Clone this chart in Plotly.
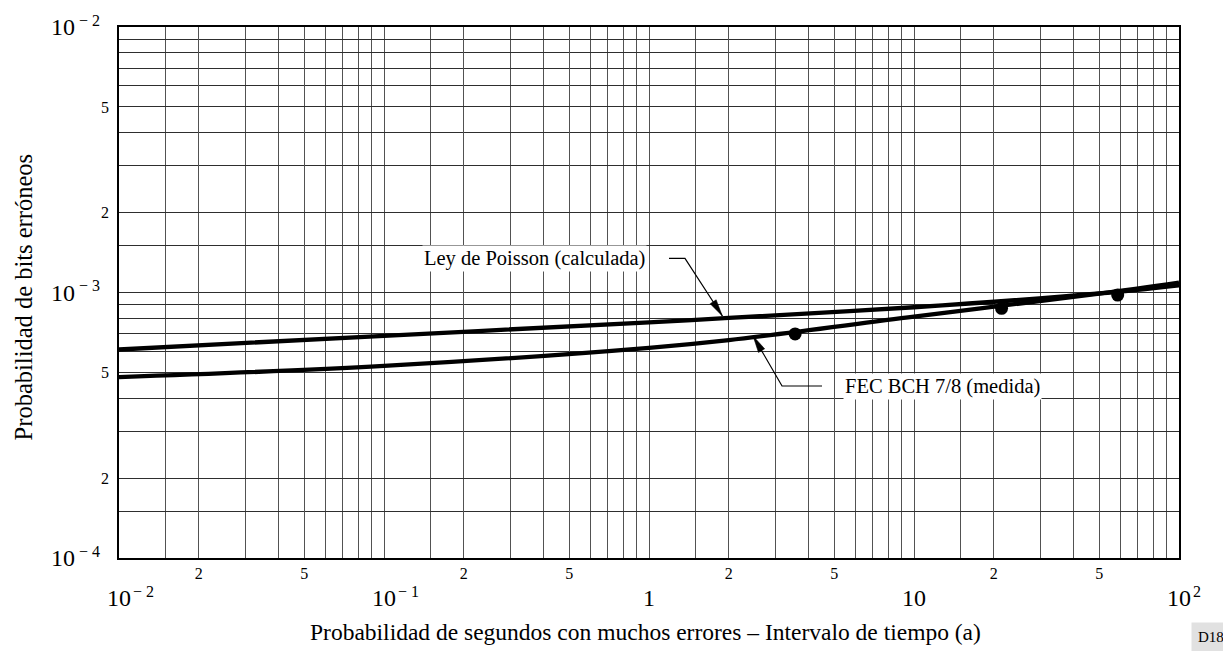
import math
import plotly.graph_objects as go

# ---------------- data ----------------
poisson_x = [0.01, 0.1, 1, 2, 10, 50, 100]
poisson_y = [6.1e-4, 6.87e-4, 7.72e-4, 8.02e-4, 8.8e-4, 9.92e-4, 1.065e-3]

fec_x = [0.01, 0.1, 1, 2, 10, 50, 100]
fec_y = [4.8e-4, 5.29e-4, 6.19e-4, 6.62e-4, 8.11e-4, 9.91e-4, 1.09e-3]

fec_meas_x = [3.56, 21.4, 58.7]
fec_meas_y = [6.98e-4, 8.72e-4, 9.78e-4]

grid_mults = [1, 1.5, 2, 3, 4, 5, 6, 7, 8, 9]
minor_label_mults = [2, 5]
x_decades = [0.01, 0.1, 1, 10, 100]
x_decade_base = ["10", "10", "1", "10", "10"]
x_decade_exp = ["− 2", "− 1", "", "", "2"]
y_decades = [1e-4, 1e-3, 1e-2]
y_decade_base = ["10", "10", "10"]
y_decade_exp = ["− 4", "− 3", "− 2"]

poisson_label = "Ley de Poisson (calculada)"
fec_label = "FEC BCH 7/8 (medida)"
x_title = "Probabilidad de segundos con muchos errores – Intervalo de tiempo (a)"
y_title = "Probabilidad de bits erróneos"
fig_code = "D18"

# callout geometry (data units): text anchor, leader start, elbow, arrow tip
poisson_text_at = (0.983, 1.34e-3)
poisson_leader = [(1.19, 1.345e-3), (1.367, 1.345e-3), (1.892, 8.155e-4)]
fec_text_at = (5.38, 4.44e-4)
fec_leader = [(4.496, 4.444e-4), (3.177, 4.444e-4), (2.47, 6.86e-4)]

FONT = "Liberation Serif"
PX_PER_DEC_X = 1060 / 4
PX_PER_DEC_Y = 531 / 2


def grid_values(decades):
    vals = []
    for d in decades[:-1]:
        for m in grid_mults:
            vals.append(d * m)
    vals.append(decades[-1])
    return vals


def label_values(decades):
    vals, txt = [], []
    for d in decades[:-1]:
        for m in minor_label_mults:
            vals.append(d * m)
            txt.append(str(m))
    return vals, txt


L = math.log10


def arrow_head(tail, tip, length=17, half_w=3.6):
    tx, ty = L(tip[0]) * PX_PER_DEC_X, L(tip[1]) * PX_PER_DEC_Y
    sx, sy = L(tail[0]) * PX_PER_DEC_X, L(tail[1]) * PX_PER_DEC_Y
    dx, dy = tx - sx, ty - sy
    n = math.hypot(dx, dy)
    ux, uy = dx / n, dy / n
    bx, by = tx - ux * length, ty - uy * length
    pts = [(tx, ty), (bx - uy * half_w, by + ux * half_w), (bx + uy * half_w, by - ux * half_w), (tx, ty)]
    return ([10 ** (p[0] / PX_PER_DEC_X) for p in pts], [10 ** (p[1] / PX_PER_DEC_Y) for p in pts])


fig = go.Figure()
fig.add_trace(go.Scatter(x=poisson_x, y=poisson_y, mode="lines",
                         line=dict(color="black", width=4.3, shape="spline", smoothing=1),
                         hoverinfo="skip"))
fig.add_trace(go.Scatter(x=fec_x, y=fec_y, mode="lines",
                         line=dict(color="black", width=4.3, shape="spline", smoothing=1),
                         hoverinfo="skip"))
fig.add_trace(go.Scatter(x=fec_meas_x, y=fec_meas_y, mode="markers",
                         marker=dict(color="black", size=13), hoverinfo="skip"))
# callout leaders with arrow heads
for leader in (poisson_leader, fec_leader):
    fig.add_trace(go.Scatter(x=[p[0] for p in leader], y=[p[1] for p in leader], mode="lines",
                             line=dict(color="black", width=1.2), hoverinfo="skip"))
    hx, hy = arrow_head(leader[1], leader[2])
    fig.add_trace(go.Scatter(x=hx, y=hy, mode="lines", fill="toself", fillcolor="black",
                             line=dict(color="black", width=0.5), hoverinfo="skip"))

axis_common = dict(
    type="log", showgrid=True, gridwidth=1, zeroline=False,
    showline=True, mirror=True, linecolor="black", linewidth=1.5,
    ticks="", tickmode="array",
    tickfont=dict(family=FONT, size=16, color="black"),
)

xv, xt = label_values(x_decades)
yv, yt = label_values(y_decades)
fig.update_xaxes(range=[-2, 2], tickvals=xv, ticktext=xt, gridcolor="#525252",
                 minor=dict(tickvals=grid_values(x_decades), showgrid=True,
                            gridcolor="#525252", gridwidth=1, ticks=""),
                 ticklabelstandoff=0, **axis_common)
fig.update_yaxes(range=[-4, -2], tickvals=yv, ticktext=yt, gridcolor="#2e2e2e",
                 minor=dict(tickvals=grid_values(y_decades), showgrid=True,
                            gridcolor="#2e2e2e", gridwidth=1, ticks=""),
                 ticklabelstandoff=5, **axis_common)

dec_font = dict(family=FONT, size=24, color="black")
exp_font = dict(family=FONT, size=16, color="black")
ann = []
for v, b, e in zip(x_decades, x_decade_base, x_decade_exp):
    ann.append(dict(x=L(v), y=0, xref="x", yref="paper", text=b, showarrow=False,
                    xanchor="center", yanchor="middle", yshift=-40, font=dec_font))
    if e:
        ann.append(dict(x=L(v), y=0, xref="x", yref="paper", text=e, showarrow=False,
                        xanchor="left", xshift=12, yanchor="middle", yshift=-33, font=exp_font))
for v, b, e in zip(y_decades, y_decade_base, y_decade_exp):
    ann.append(dict(x=0, y=L(v), xref="paper", yref="y", text=b, showarrow=False,
                    xanchor="right", xshift=-42, yanchor="middle", yshift=0, font=dec_font))
    ann.append(dict(x=0, y=L(v), xref="paper", yref="y", text=e, showarrow=False,
                    xanchor="left", xshift=-42, yanchor="middle", yshift=7, font=exp_font))

# callout texts
ann.append(dict(x=L(poisson_text_at[0]), y=L(poisson_text_at[1]), text=poisson_label,
                showarrow=False, xanchor="right", yanchor="middle", bgcolor="white", borderpad=1,
                font=dict(family=FONT, size=20.5, color="black")))
ann.append(dict(x=L(fec_text_at[0]), y=L(fec_text_at[1]), text=fec_label,
                showarrow=False, xanchor="left", yanchor="middle", bgcolor="white", borderpad=1,
                font=dict(family=FONT, size=20.5, color="black")))

# axis titles and figure code
ann.append(dict(x=0.5, y=0, xref="paper", yref="paper", text=x_title, showarrow=False,
                xanchor="center", yanchor="middle", yshift=-74, xshift=-4,
                font=dict(family=FONT, size=23.5, color="black")))
ann.append(dict(x=0, y=0.4908, xref="paper", yref="paper", text=y_title, showarrow=False,
                textangle=-90, xanchor="center", yanchor="middle", xshift=-96,
                font=dict(family=FONT, size=24.5, color="black")))
ann.append(dict(x=1, y=0, xref="paper", yref="paper", text=fig_code, showarrow=False,
                xanchor="center", yanchor="middle", xshift=32, yshift=-79,
                bgcolor="#e1e1e1", borderpad=6,
                font=dict(family=FONT, size=15, color="black")))

# the page body adds an 8px offset, so the figure is 8px smaller on each side
fig.update_layout(
    width=1223, height=643,
    margin=dict(l=111, r=52, t=19, b=93, pad=0),
    paper_bgcolor="white", plot_bgcolor="white",
    showlegend=False,
    annotations=ann,
)

fig.write_html("out.html")
